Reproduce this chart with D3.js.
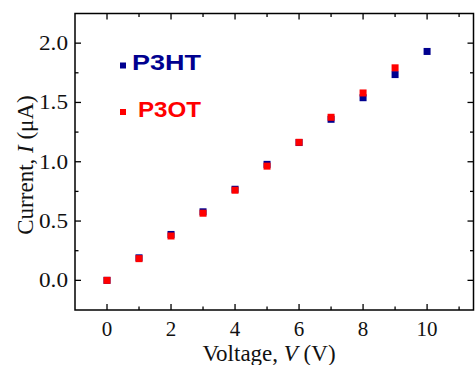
<!DOCTYPE html>
<html><head><meta charset="utf-8">
<script src="https://cdn.jsdelivr.net/npm/d3@7"></script>
<style>html,body{margin:0;padding:0;background:#fff;}svg{display:block;}</style>
</head><body>
<svg id="c" width="475" height="365"></svg>
<script>
const voltage = [0,1,2,3,4,5,6,7,8,9,10];
const p3ht = [0.0,0.19,0.387,0.578,0.768,0.978,1.162,1.358,1.54,1.735,1.93];
const p3otV = [0,1,2,3,4,5,6,7,8,9];
const p3ot = [0.0,0.183,0.374,0.566,0.76,0.963,1.164,1.375,1.58,1.792];
const xMajor = [0,2,4,6,8,10];
const xMinor = [-1,1,3,5,7,9,11];
const yMajor = [0.0,0.5,1.0,1.5,2.0];
const yMinor = [-0.25,0.25,0.75,1.25,1.75,2.25];
const seriesNames = ["P3HT","P3OT"];
const colors = ["#00008f","#ff0000"];

const svg = d3.select("#c");
const L=75, R=473.5, T=13.5, B=310;
const x = d3.scaleLinear().domain([-1,11.45]).range([L,R]);
const y = d3.scaleLinear().domain([-0.25,2.25]).range([B,T]);

// frame
svg.append("rect").attr("x",L).attr("y",T).attr("width",R-L).attr("height",B-T)
  .attr("fill","none").attr("stroke","#000").attr("stroke-width",1.5);

const g = svg.append("g");
function ticks(vals, len, orient){
  vals.forEach(v=>{
    if(orient==="x"){
      const px=x(v); if(px<L+1||px>R-1) return;
      g.append("line").attr("x1",px).attr("x2",px).attr("y1",B).attr("y2",B-len).attr("stroke","#000").attr("stroke-width",1.3);
      g.append("line").attr("x1",px).attr("x2",px).attr("y1",T).attr("y2",T+len).attr("stroke","#000").attr("stroke-width",1.3);
    } else {
      const py=y(v); if(py<T+1||py>B-1) return;
      g.append("line").attr("x1",L).attr("x2",L+len).attr("y1",py).attr("y2",py).attr("stroke","#000").attr("stroke-width",1.3);
      g.append("line").attr("x1",R).attr("x2",R-len).attr("y1",py).attr("y2",py).attr("stroke","#000").attr("stroke-width",1.3);
    }
  });
}
ticks(xMajor,6,"x"); ticks(xMinor,3.5,"x");
ticks(yMajor,6,"y"); ticks(yMinor,3.5,"y");

const tf = "'Liberation Serif','Times New Roman',serif";
svg.append("g").selectAll("text").data(xMajor).join("text")
  .attr("x",d=>x(d)).attr("y",336).attr("text-anchor","middle")
  .attr("font-family",tf).attr("font-size",21).attr("fill","#111").text(d=>d);
svg.append("g").selectAll("text").data(yMajor).join("text")
  .attr("x",68).attr("y",d=>y(d)+7).attr("text-anchor","end")
  .attr("font-family",tf).attr("font-size",21).attr("fill","#111")
  .attr("textLength",29).attr("lengthAdjust","spacingAndGlyphs")
  .text(d=>d.toFixed(1));

// axis titles
const xt = svg.append("text").attr("x",269).attr("y",360.5).attr("text-anchor","middle")
  .attr("font-family",tf).attr("font-size",23).attr("fill","#111");
xt.append("tspan").text("Voltage, ");
xt.append("tspan").attr("font-style","italic").text("V");
xt.append("tspan").text(" (V)");

const yt = svg.append("text").attr("transform","translate(33,165) rotate(-90)").attr("text-anchor","middle")
  .attr("font-family",tf).attr("font-size",23).attr("fill","#111");
yt.append("tspan").text("Current, ");
yt.append("tspan").attr("font-style","italic").text("I");
yt.append("tspan").text(" (\u03bcA)");

// data
const ms = 7;
svg.append("g").selectAll("rect").data(voltage.map((v,i)=>[v,p3ht[i]])).join("rect")
  .attr("x",d=>x(d[0])-ms/2).attr("y",d=>y(d[1])-ms/2).attr("width",ms).attr("height",ms)
  .attr("fill",colors[0]);
svg.append("g").selectAll("rect").data(p3otV.map((v,i)=>[v,p3ot[i]])).join("rect")
  .attr("x",d=>x(d[0])-ms/2).attr("y",d=>y(d[1])-ms/2).attr("width",ms).attr("height",ms)
  .attr("fill",colors[1]);

// legend
const legY = [63,109.5];
const legW = [69,63];
seriesNames.forEach((n,i)=>{
  svg.append("rect").attr("x",123-3).attr("y",legY[i]-0.5).attr("width",6).attr("height",6).attr("fill",colors[i]);
  svg.append("text").attr("x",201).attr("y",legY[i]+7).attr("text-anchor","end")
    .attr("font-family","'Liberation Sans',Arial,sans-serif").attr("font-weight","bold")
    .attr("font-size",22).attr("fill",colors[i])
    .attr("textLength",legW[i]).attr("lengthAdjust","spacingAndGlyphs").text(n);
});
</script>
</body></html>
